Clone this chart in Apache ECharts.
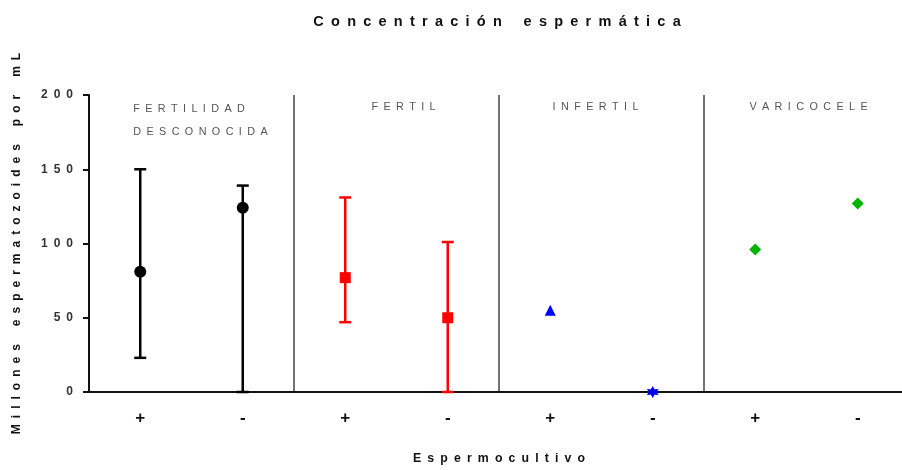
<!DOCTYPE html>
<html>
<head>
<meta charset="utf-8">
<script src="https://cdn.jsdelivr.net/npm/echarts@6/dist/echarts.min.js"></script>
<style>html,body{margin:0;padding:0;background:#fff;overflow:hidden}#c{width:912px;height:470px}</style>
</head>
<body>
<div id="c"></div>
<script>
// ---- data ----
const categories = ['FD+', 'FD-', 'F+', 'F-', 'I+', 'I-', 'V+', 'V-'];
const tickLabels = ['+', '-', '+', '-', '+', '-', '+', '-'];
const groupNames = ['FERTILIDAD', 'DESCONOCIDA', 'FERTIL', 'INFERTIL', 'VARICOCELE'];
const yTicks = [0, 50, 100, 150, 200];

const desconocidaMean = [81, 124];
const desconocidaLow = [23, 0];
const desconocidaHigh = [150, 139];

const fertilMean = [77, 50];
const fertilLow = [47, 0];
const fertilHigh = [131, 101];

const infertilMean = [55, 0];
const varicoceleMean = [96, 127];

const titleText = 'Concentración espermática';
const yName = 'Millones espermatozoides por mL';
const xName = 'Espermocultivo';

// ---- helpers ----
const EN = '\u2002';
function spaced(s, sep) {
  return s.split(' ').map(w => Array.from(w).join(sep)).join(sep + sep + sep);
}
function pts(offset, vals) { return vals.map((v, i) => [categories[offset + i], v]); }
function errData(offset, lo, hi) { return lo.map((l, i) => [offset + i, l, hi[i]]); }

function errorBar(color) {
  return function (params, api) {
    const x = api.value(0);
    const lo = api.coord([x, api.value(1)]);
    const hi = api.coord([x, api.value(2)]);
    const half = 6;
    const style = { stroke: color, lineWidth: 2.5 };
    return {
      type: 'group',
      children: [
        { type: 'line', shape: { x1: lo[0], y1: lo[1], x2: hi[0], y2: hi[1] }, style: style },
        { type: 'line', shape: { x1: hi[0] - half, y1: hi[1], x2: hi[0] + half, y2: hi[1] }, style: style },
        { type: 'line', shape: { x1: lo[0] - half, y1: lo[1], x2: lo[0] + half, y2: lo[1] }, style: style }
      ]
    };
  };
}

const star6 = 'path://M0,-6L1.6,-2.8L5.2,-3L3.2,0L5.2,3L1.6,2.8L0,6L-1.6,2.8L-5.2,3L-3.2,0L-5.2,-3L-1.6,-2.8Z';

const chart = echarts.init(document.getElementById('c'), null, { renderer: 'canvas' });
const option = {
  animation: false,
  backgroundColor: '#fff',
  title: {
    text: spaced(titleText, EN),
    left: 492, top: 9, textAlign: 'center',
    textStyle: { fontFamily: 'Liberation Sans', fontWeight: 'bold', fontSize: 14.5, color: '#111' }
  },
  grid: { left: 89, top: 95, width: 820, height: 300 },
  xAxis: {
    type: 'category',
    data: categories,
    boundaryGap: true,
    name: spaced(xName, EN),
    nameLocation: 'middle',
    nameGap: 61,
    nameTextStyle: { fontFamily: 'Liberation Sans', fontWeight: 'bold', fontSize: 12.3, color: '#111' },
    axisLine: { lineStyle: { color: '#111', width: 2 } },
    axisTick: { alignWithLabel: true, length: 6, lineStyle: { color: '#111', width: 2 } },
    axisLabel: {
      formatter: (v, i) => tickLabels[i],
      margin: 18, fontFamily: 'Liberation Sans', fontWeight: 'bold', fontSize: 17, color: '#111'
    },
    splitLine: {
      show: true,
      interval: (i) => i === 2 || i === 4 || i === 6,
      lineStyle: { color: '#444', width: 1.5, type: 'solid' }
    }
  },
  yAxis: {
    type: 'value',
    min: yTicks[0], max: yTicks[yTicks.length - 1], interval: 50,
    name: spaced(yName, EN),
    nameLocation: 'middle',
    nameGap: 66,
    nameRotate: 90,
    nameTextStyle: { fontFamily: 'Liberation Sans', fontWeight: 'bold', fontSize: 12, color: '#111' },
    axisLine: { show: true, lineStyle: { color: '#111', width: 2 } },
    axisTick: { show: true, length: 6, lineStyle: { color: '#111', width: 2 } },
    axisLabel: {
      formatter: (v) => spaced(String(v), EN),
      margin: 16, fontFamily: 'Liberation Sans', fontWeight: 'bold', fontSize: 12, color: '#333'
    },
    splitLine: { show: false }
  },
  series: [
    { type: 'custom', renderItem: errorBar('#000'), data: errData(0, desconocidaLow, desconocidaHigh), z: 2 },
    { type: 'custom', renderItem: errorBar('#ff0000'), data: errData(2, fertilLow, fertilHigh), z: 2 },
    { type: 'scatter', data: pts(0, desconocidaMean), symbol: 'circle', symbolSize: 12, itemStyle: { color: '#000', opacity: 1 }, z: 3 },
    { type: 'scatter', data: pts(2, fertilMean), symbol: 'rect', symbolSize: 11, itemStyle: { color: '#ff0000', opacity: 1 }, z: 3 },
    { type: 'scatter', data: pts(4, infertilMean.slice(0, 1)), symbol: 'triangle', symbolSize: 11, itemStyle: { color: '#0000ff', opacity: 1 }, z: 3 },
    { type: 'scatter', data: [[categories[5], infertilMean[1]]], symbol: star6, symbolSize: 12, itemStyle: { color: '#0000ff', opacity: 1 }, z: 3 },
    { type: 'scatter', data: pts(6, varicoceleMean), symbol: 'diamond', symbolSize: 12, itemStyle: { color: '#00b400', opacity: 1 }, z: 3 }
  ]
};
chart.setOption(option);

// group labels placed from axis coordinates
const c0 = chart.convertToPixel({ xAxisIndex: 0 }, categories[0]);
const bandCenter = (a) => (chart.convertToPixel({ xAxisIndex: 0 }, categories[a]) + chart.convertToPixel({ xAxisIndex: 0 }, categories[a + 1])) / 2;
const plotTop = chart.convertToPixel({ yAxisIndex: 0 }, 200);
const gStyle = { fontFamily: 'Liberation Sans', fontSize: 10.8, fill: '#555' };
chart.setOption({
  graphic: [
    { type: 'text', left: c0 - 7, top: plotTop + 9, style: Object.assign({ text: spaced(groupNames[0], EN) }, gStyle) },
    { type: 'text', left: c0 - 7, top: plotTop + 32, style: Object.assign({ text: spaced(groupNames[1], EN) }, gStyle) },
    { type: 'text', x: bandCenter(2) + 7, y: plotTop + 12, style: Object.assign({ text: spaced(groupNames[2], EN), align: 'center', verticalAlign: 'middle' }, gStyle) },
    { type: 'text', x: bandCenter(4) - 6, y: plotTop + 12, style: Object.assign({ text: spaced(groupNames[3], EN), align: 'center', verticalAlign: 'middle' }, gStyle) },
    { type: 'text', x: bandCenter(6) + 2, y: plotTop + 12, style: Object.assign({ text: spaced(groupNames[4], EN), align: 'center', verticalAlign: 'middle' }, gStyle) }
  ]
});
</script>
</body>
</html>
